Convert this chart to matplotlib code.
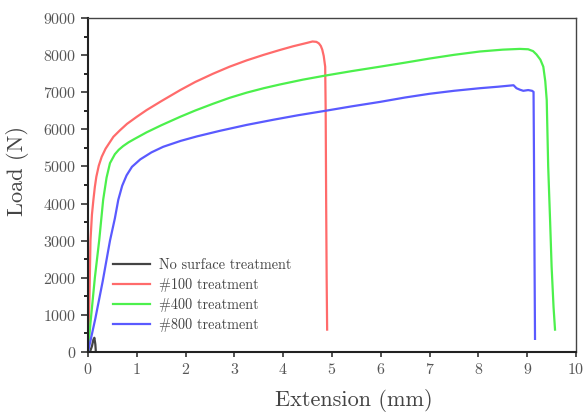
import matplotlib.pyplot as plt
import numpy as np

plt.rcParams['font.family'] = ['cmr10', 'DejaVu Serif']
plt.rcParams['axes.formatter.use_mathtext'] = True

# 读出的数据点 (Extension mm, Load N)
x_none = [0.0, 0.04, 0.08, 0.11, 0.13, 0.15, 0.16]
y_none = [0, 0, 150, 330, 380, 200, 0]

x_100 = [0.0, 0.03, 0.05, 0.08, 0.11, 0.14, 0.17, 0.22, 0.28, 0.36, 0.45, 0.52, 0.65, 0.8, 1.0, 1.2,
         1.5, 1.89, 2.2, 2.56, 2.9, 3.25, 3.6, 3.93, 4.2, 4.48, 4.6, 4.68, 4.73, 4.77, 4.8, 4.83,
         4.86, 4.87, 4.88, 4.89, 4.9]
y_100 = [0, 1500, 3000, 3700, 4100, 4450, 4720, 5020, 5260, 5480, 5660, 5800, 5970, 6150, 6340, 6520,
         6760, 7060, 7280, 7500, 7690, 7860, 8010, 8140, 8240, 8330, 8370, 8360, 8320, 8250, 8150, 7980,
         7690, 6500, 4000, 2000, 600]

x_400 = [0.0, 0.05, 0.14, 0.23, 0.31, 0.38, 0.45, 0.55, 0.63, 0.72, 0.83, 0.95, 1.2, 1.5, 1.89, 2.2,
         2.56, 2.9, 3.25, 3.6, 3.93, 4.4, 4.86, 5.4, 5.98, 6.5, 7.0, 7.5, 8.03, 8.5, 8.85, 9.02,
         9.12, 9.19, 9.27, 9.33, 9.37, 9.4, 9.43, 9.47, 9.5, 9.54, 9.57]
y_400 = [0, 780, 2000, 3020, 4100, 4700, 5090, 5330, 5450, 5550, 5650, 5740, 5920, 6110, 6340, 6510,
         6690, 6850, 6990, 7110, 7210, 7340, 7450, 7570, 7690, 7800, 7910, 8010, 8100, 8150, 8170, 8160,
         8110, 8020, 7880, 7690, 7300, 6790, 5000, 3500, 2300, 1200, 600]

x_800 = [0.0, 0.15, 0.3, 0.45, 0.55, 0.62, 0.7, 0.79, 0.9, 1.07, 1.3, 1.54, 1.9, 2.23, 2.7, 3.25,
         3.8, 4.3, 4.86, 5.4, 5.98, 6.5, 7.0, 7.5, 8.03, 8.4, 8.72, 8.78, 8.85, 8.92, 9.02, 9.1,
         9.13, 9.14, 9.15, 9.16]
y_800 = [0, 900, 1900, 3000, 3600, 4100, 4480, 4760, 4990, 5190, 5380, 5530, 5690, 5810, 5960, 6120,
         6260, 6380, 6500, 6620, 6740, 6860, 6960, 7040, 7110, 7150, 7190, 7110, 7070, 7040, 7060, 7040,
         7010, 5000, 2500, 350]

fig = plt.figure(figsize=(5.83, 4.12), dpi=100)
ax = fig.add_axes([0.151, 0.146, 0.837, 0.81])

ax.plot(x_none, y_none, color='#444444', lw=1.6, label='No surface treatment')
ax.plot(x_100, y_100, color='#ff6b6b', lw=1.6, label='#100 treatment')
ax.plot(x_400, y_400, color='#4cf04c', lw=1.6, label='#400 treatment')
ax.plot(x_800, y_800, color='#5a5aff', lw=1.6, label='#800 treatment')

ax.set_xlim(0, 10)
ax.set_ylim(0, 9000)
ax.set_xticks(np.arange(0, 11, 1))
ax.set_yticks(np.arange(0, 9001, 1000))
ax.set_yticks(np.arange(500, 9000, 1000), minor=True)
ax.tick_params(axis='both', labelsize=11.5, colors='#333333', labelcolor='#555555', width=1.2)
ax.tick_params(axis='y', which='major', length=5)
ax.tick_params(axis='y', which='minor', length=3, width=1.2)
for s in ['left', 'bottom']:
    ax.spines[s].set_linewidth(1.5)
    ax.spines[s].set_color('#222222')
for s in ['top', 'right']:
    ax.spines[s].set_linewidth(1.0)
    ax.spines[s].set_color('#444444')

ax.set_xlabel('Extension (mm)', fontsize=16, color='#444444')
ax.set_ylabel('Load (N)', fontsize=16, color='#444444')
ax.xaxis.set_label_coords(0.545, -0.112)
ax.yaxis.set_label_coords(-0.122, 0.542)

ax.legend(loc='lower left', bbox_to_anchor=(0.025, 0.02), frameon=False, fontsize=10.3,
          labelcolor='#444444', handlelength=2.6, handletextpad=0.6, labelspacing=0.42)

fig.savefig('out.png', dpi=100)
